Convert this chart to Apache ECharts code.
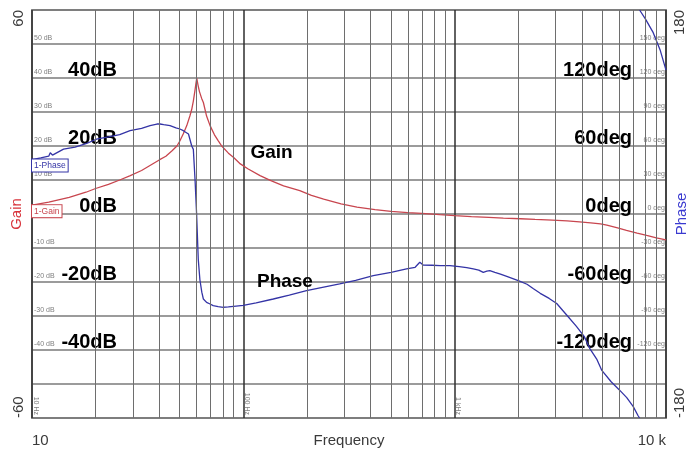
<!DOCTYPE html>
<html>
<head>
<meta charset="utf-8">
<script src="https://cdn.jsdelivr.net/npm/echarts@6/dist/echarts.min.js"></script>
<style>
  html, body { margin: 0; padding: 0; background: #fff; }
  #chart { width: 688px; height: 453px; }
</style>
</head>
<body>
<div id="chart"></div>
<script>
// Frequency response: gain (dB) and phase (deg) against frequency (Hz)
const gainFreq = [10, 12, 15, 18, 20, 23, 26, 29, 33, 36, 40, 43, 46, 48.5, 50, 52, 54, 55.9, 57, 58,
  59, 59.7, 60.2, 61, 62, 63.5, 64.7, 67, 69.6, 73, 76, 79, 85, 90, 96, 105, 120, 135, 155, 185,
  210, 240, 290, 345, 420, 500, 600, 700, 850, 1000, 1200, 1450, 1700, 2050, 2400, 2900, 3400, 3900,
  4400, 4900, 5250, 5900, 6500, 7300, 8100, 9000, 10000];
const gainDb = [2.6, 3.5, 4.9, 6.4, 7.5, 8.7, 10.0, 11.2, 12.8, 14.2, 15.9, 17.0, 18.6, 20.0, 21.4, 23.6, 26.0, 28.9, 30.8, 33.2,
  36.2, 38.5, 40, 38.0, 36.0, 34.0, 32.8, 28.8, 26.0, 23.3, 21.6, 20.0, 17.9, 16.6, 14.9, 13.3, 11.3, 9.8, 8.3, 6.9,
  5.5, 4.4, 3.0, 2.0, 1.3, 0.8, 0.4, 0.2, -0.2, -0.5, -0.8, -1.0, -1.2, -1.4, -1.6, -1.8, -2.0, -2.3,
  -2.6, -2.9, -3.3, -4.1, -4.8, -5.6, -6.3, -7.0, -7.6];

const phaseFreq = [10, 11, 12, 12.2, 12.5, 14.1, 16, 18, 20.2, 23, 26, 29.1, 33, 36.2, 39, 40.3, 42, 45, 48, 50.1,
  52, 55, 55.9, 57, 58, 59.1, 60.1, 61.2, 62.3, 63.6, 64.7, 67, 69.6, 72, 76, 80.4, 85, 90, 100, 115,
  138.6, 165, 199, 240, 285.6, 340, 412, 500, 592, 650, 684, 709, 780, 854, 950, 1050, 1140, 1225, 1300, 1366,
  1420, 1467, 1550, 1647, 1764, 2000, 2200, 2360, 2540, 2800, 3040, 3420, 3760, 4100, 4370, 4700, 4970, 5500,
  6000, 6520, 7000, 7380, 7500];
const phaseDeg = [48, 49.5, 51, 54, 52, 57.3, 59, 62, 66, 68, 70, 73.5, 75.5, 78, 79.4, 79.4, 78.8, 77.9, 76, 75,
  73.5, 70.6, 69, 60, 57, 30, 0, -40, -58, -69, -75, -78, -79.4, -80.9, -81.8, -82.3, -82, -81.5, -80.6, -78.5,
  -75, -71.5, -67.6, -64.5, -61.7, -58.5, -54.4, -51.5, -48.5, -47, -42.6, -45, -45.2, -45.6, -45.6, -46.5, -47.3, -48.5, -49.5, -51.5,
  -50.5, -50, -51.5, -53, -55, -58.8, -62, -66, -70, -74.5, -79, -90, -99, -108, -119, -128, -138, -148,
  -155, -162, -170, -178, -180];
// above ~7.5 kHz the phase wraps round and continues down from +180
const phaseWrapFreq = [7500, 8000, 8700, 9370, 10000];
const phaseWrapDeg = [180, 172, 160, 145, 127];

const freqEndLabels = { 10: '10', 10000: '10 k' };
const decadeLabels = { 10: '10 Hz', 100: '100 Hz', 1000: '1 kHz' };
const gainBigLabels = [40, 20, 0, -20, -40];
const phaseBigLabels = [120, 60, 0, -60, -120];

const RED = '#c8464f';
const BLUE = '#3434a6';
const FONT = '"Liberation Sans", Arial, Helvetica, sans-serif';

const pairs = (xs, ys) => xs.map((x, i) => [x, ys[i]]);
const phaseData = pairs(phaseFreq, phaseDeg)
  .concat([[7510, '-']])
  .concat(pairs(phaseWrapFreq, phaseWrapDeg));

// minor vertical grid lines at 2..9 x each decade
const minorLines = [];
[10, 100, 1000].forEach(d => { for (let m = 2; m <= 9; m++) minorLines.push({ xAxis: d * m }); });

const chart = echarts.init(document.getElementById('chart'), null, { renderer: 'canvas' });

const hiddenAxisBits = {
  axisLine: { show: false },
  axisTick: { show: false },
  splitLine: { show: false }
};

chart.setOption({
  backgroundColor: '#fff',
  animation: false,
  textStyle: { fontFamily: FONT },
  grid: {
    left: 32, right: 22, top: 10, bottom: 35,
    show: true, borderColor: '#8c8c8c', borderWidth: 2,
    containLabel: false, outerBoundsMode: 'none'
  },
  xAxis: [
    {
      type: 'log', logBase: 10, min: 10, max: 10000, position: 'bottom',
      name: 'Frequency', nameLocation: 'middle', nameGap: 15, nameMoveOverlap: false,
      nameTextStyle: { fontSize: 15, color: '#3a3a3a', verticalAlign: 'top' },
      axisLine: { show: false }, axisTick: { show: false },
      splitLine: { show: true, lineStyle: { color: '#2e2e2e', width: 1.5 } },
      axisLabel: {
        margin: 15, fontSize: 15, color: '#3a3a3a',
        alignMinLabel: 'left', alignMaxLabel: 'right',
        formatter: v => freqEndLabels[Math.round(v)] || ''
      }
    },
    Object.assign({
      type: 'log', logBase: 10, min: 10, max: 10000, position: 'bottom',
      axisLabel: {
        inside: true, rotate: -90, margin: 3, fontSize: 7, color: '#808080',
        align: 'right', verticalAlign: 'bottom', hideOverlap: false,
        formatter: v => decadeLabels[Math.round(v)] || ''
      }
    }, hiddenAxisBits)
  ],
  yAxis: [
    {
      type: 'value', min: -60, max: 60, interval: 10, position: 'left',
      name: 'Gain', nameLocation: 'middle', nameGap: 8, nameRotate: 90, nameMoveOverlap: false,
      nameTextStyle: { fontSize: 15, color: '#d8323a' },
      axisLine: { show: false }, axisTick: { show: false },
      splitLine: { show: true, lineStyle: { color: '#7a7a7a', width: 1.5 } },
      axisLabel: {
        rotate: 90, margin: 6, fontSize: 15, color: '#3a3a3a',
        alignMinLabel: 'left', alignMaxLabel: 'right',
        formatter: v => (v === 60 || v === -60) ? String(v) : ''
      }
    },
    {
      type: 'value', min: -180, max: 180, interval: 30, position: 'right',
      name: 'Phase', nameLocation: 'middle', nameGap: 8, nameRotate: 90, nameMoveOverlap: false,
      nameTextStyle: { fontSize: 15, color: '#3a3ad0' },
      axisLine: { show: false }, axisTick: { show: false }, splitLine: { show: false },
      axisLabel: {
        rotate: 90, margin: 6, fontSize: 15, color: '#3a3a3a',
        alignMinLabel: 'left', alignMaxLabel: 'right',
        formatter: v => (v === 180 || v === -180) ? String(v) : ''
      }
    },
    Object.assign({
      type: 'value', min: -60, max: 60, interval: 10, position: 'left',
      axisLabel: {
        inside: true, margin: 2, fontSize: 7, color: '#808080',
        align: 'left', verticalAlign: 'bottom', padding: [0, 0, 2, 0],
        formatter: v => (v > -50 && v < 60) ? v + ' dB' : ''
      }
    }, hiddenAxisBits),
    Object.assign({
      type: 'value', min: -180, max: 180, interval: 30, position: 'right',
      axisLabel: {
        inside: true, margin: 1, fontSize: 7, color: '#808080',
        align: 'right', verticalAlign: 'bottom', padding: [0, 0, 2, 0],
        formatter: v => (v > -150 && v < 180) ? v + ' deg' : ''
      }
    }, hiddenAxisBits),
    Object.assign({
      type: 'value', min: -60, max: 60, interval: 20, position: 'left',
      axisLabel: {
        inside: true, margin: 85, fontSize: 20, fontWeight: 'bold', color: '#000',
        align: 'right', verticalAlign: 'bottom', lineHeight: 16,
        formatter: v => gainBigLabels.includes(v) ? v + 'dB' : ''
      }
    }, hiddenAxisBits),
    Object.assign({
      type: 'value', min: -180, max: 180, interval: 60, position: 'right',
      axisLabel: {
        inside: true, margin: 34, fontSize: 20, fontWeight: 'bold', color: '#000',
        align: 'right', verticalAlign: 'bottom', lineHeight: 16,
        formatter: v => phaseBigLabels.includes(v) ? v + 'deg' : ''
      }
    }, hiddenAxisBits)
  ],
  series: [
    {
      // minor frequency grid
      type: 'line', xAxisIndex: 0, yAxisIndex: 0, data: [], z: 1, silent: true,
      markLine: {
        silent: true, symbol: 'none', animation: false,
        label: { show: false },
        lineStyle: { color: '#6e6e6e', width: 1, type: 'solid' },
        emphasis: { disabled: true },
        data: minorLines
      }
    },
    {
      name: 'Gain', type: 'line', xAxisIndex: 0, yAxisIndex: 0, z: 3,
      data: pairs(gainFreq, gainDb), showSymbol: false, smooth: false,
      lineStyle: { color: RED, width: 1.3 }, itemStyle: { color: RED },
      markPoint: {
        silent: true, symbol: 'circle', symbolSize: 0,
        data: [
          {
            coord: [gainFreq[0], gainDb[0]],
            label: {
              show: true, formatter: '1-Gain', position: [0, 0], align: 'left', verticalAlign: 'top',
              fontSize: 8.5, color: RED, backgroundColor: '#fff', borderColor: RED, borderWidth: 1,
              padding: [2, 2, 1, 2]
            }
          },
          {
            coord: [108, 17.9],
            label: {
              show: true, formatter: 'Gain', position: [0, 0], align: 'left', verticalAlign: 'middle',
              fontSize: 19, fontWeight: 'bold', color: '#000'
            }
          }
        ]
      }
    },
    {
      name: 'Phase', type: 'line', xAxisIndex: 0, yAxisIndex: 1, z: 3,
      data: phaseData, showSymbol: false, smooth: false, connectNulls: false,
      lineStyle: { color: BLUE, width: 1.3 }, itemStyle: { color: BLUE },
      markPoint: {
        silent: true, symbol: 'circle', symbolSize: 0,
        data: [
          {
            coord: [phaseFreq[0], phaseDeg[0]],
            label: {
              show: true, formatter: '1-Phase', position: [0, 0], align: 'left', verticalAlign: 'top',
              fontSize: 8.5, color: BLUE, backgroundColor: '#fff', borderColor: BLUE, borderWidth: 1,
              padding: [2, 2, 1, 2]
            }
          },
          {
            coord: [116, -60],
            label: {
              show: true, formatter: 'Phase', position: [0, 0], align: 'left', verticalAlign: 'middle',
              fontSize: 19, fontWeight: 'bold', color: '#000'
            }
          }
        ]
      }
    }
  ]
});
</script>
</body>
</html>
